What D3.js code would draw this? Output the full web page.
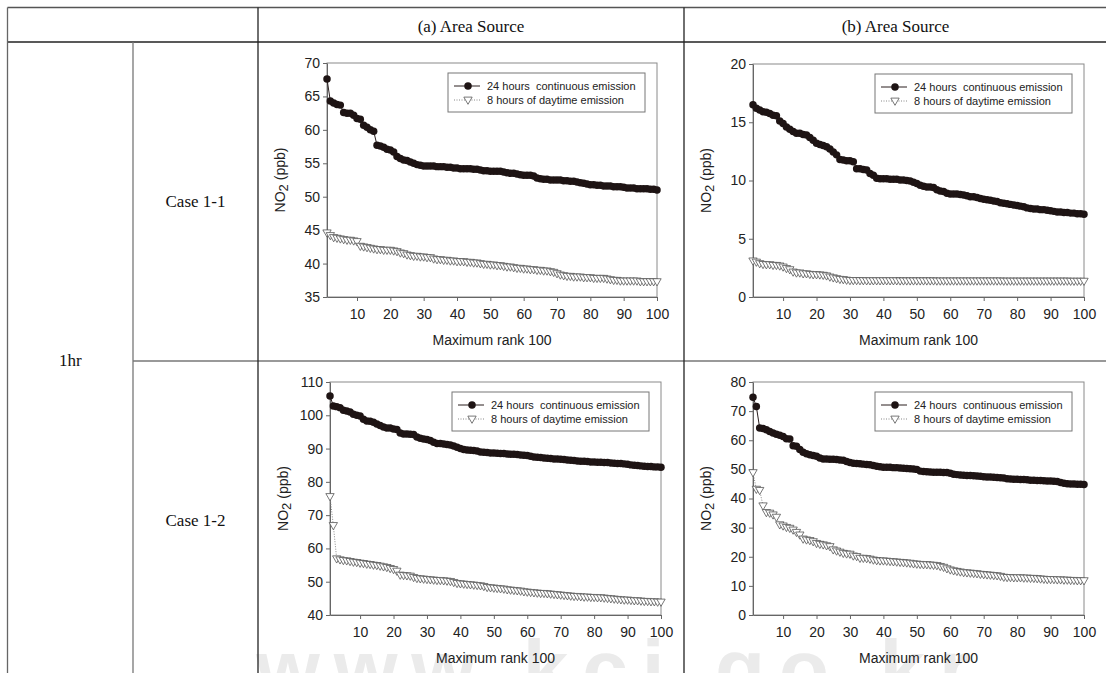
<!DOCTYPE html>
<html>
<head>
<meta charset="utf-8">
<script src="https://cdn.jsdelivr.net/npm/d3@7"></script>
<style>
  body { margin: 0; background: #fff; }
  svg text { white-space: pre; }
</style>
</head>
<body>
<svg id="canvas" width="1106" height="673"></svg>
<script>
// column / row headings
const colHeads = ["(a) Area Source", "(b) Area Source"];
const rowHeads = ["Case 1-1", "Case 1-2"];
const periodHead = "1hr";
const legendNames = ["24 hours  continuous emission", "8 hours of daytime emission"];
const xTitle = "Maximum rank 100";
const xTicks = [10, 20, 30, 40, 50, 60, 70, 80, 90, 100];

// (a) Case 1-1
const a11Continuous = [67.6, 64.3, 64.0, 63.8, 63.7, 62.6, 62.5, 62.5, 62.2, 61.7,
  61.6, 60.7, 60.4, 60.0, 59.8, 57.7, 57.6, 57.4, 57.1, 57.0,
  56.7, 56.0, 55.7, 55.5, 55.4, 55.2, 55.0, 54.8, 54.7, 54.6,
  54.6, 54.6, 54.6, 54.5, 54.5, 54.5, 54.4, 54.4, 54.3, 54.3,
  54.2, 54.2, 54.2, 54.2, 54.1, 54.1, 54.0, 53.9, 53.9, 53.8,
  53.8, 53.8, 53.8, 53.7, 53.6, 53.5, 53.5, 53.4, 53.3, 53.2,
  53.2, 53.2, 53.1, 52.8, 52.7, 52.6, 52.6, 52.5, 52.5, 52.5,
  52.5, 52.4, 52.4, 52.3, 52.3, 52.2, 52.1, 52.0, 51.9, 51.8,
  51.8, 51.7, 51.7, 51.6, 51.6, 51.6, 51.5, 51.5, 51.5, 51.4,
  51.3, 51.3, 51.3, 51.2, 51.2, 51.2, 51.2, 51.1, 51.1, 51.0];
const a11Daytime = [44.6, 44.2, 43.9, 43.8, 43.7, 43.6, 43.5, 43.5, 43.4, 43.3,
  42.6, 42.5, 42.4, 42.3, 42.2, 42.1, 42.1, 42.0, 42.0, 42.0,
  41.9, 41.8, 41.6, 41.5, 41.3, 41.2, 41.1, 41.1, 41.0, 41.0,
  40.9, 40.9, 40.7, 40.6, 40.6, 40.5, 40.5, 40.4, 40.4, 40.3,
  40.3, 40.3, 40.2, 40.2, 40.1, 40.1, 40.0, 39.9, 39.9, 39.8,
  39.8, 39.7, 39.7, 39.6, 39.5, 39.5, 39.4, 39.3, 39.3, 39.2,
  39.2, 39.1, 39.1, 39.0, 39.0, 38.9, 38.9, 38.8, 38.7, 38.5,
  38.3, 38.2, 38.1, 38.1, 38.0, 38.0, 38.0, 37.9, 37.9, 37.9,
  37.8, 37.8, 37.8, 37.8, 37.7, 37.6, 37.5, 37.5, 37.4, 37.4,
  37.4, 37.4, 37.4, 37.4, 37.3, 37.3, 37.3, 37.3, 37.3, 37.3];

// (b) Case 1-1
const b11Continuous = [16.5, 16.2, 16.05, 15.9, 15.85, 15.75, 15.6, 15.55, 15.1, 14.9,
  14.6, 14.4, 14.2, 14.05, 14.05, 13.95, 13.9, 13.7, 13.45, 13.2,
  13.1, 13.0, 12.9, 12.7, 12.45, 12.2, 11.8, 11.75, 11.7, 11.7,
  11.6, 11.0, 11.0, 10.95, 10.9, 10.6, 10.45, 10.2, 10.15, 10.15,
  10.15, 10.1, 10.1, 10.1, 10.05, 10.05, 10.0, 9.95, 9.85, 9.75,
  9.6, 9.5, 9.45, 9.45, 9.4, 9.2, 9.1, 9.05, 8.9, 8.85,
  8.85, 8.85, 8.8, 8.75, 8.7, 8.6, 8.6, 8.55, 8.45, 8.4,
  8.35, 8.3, 8.25, 8.2, 8.1, 8.05, 8.0, 7.95, 7.9, 7.85,
  7.8, 7.75, 7.65, 7.6, 7.55, 7.55, 7.5, 7.5, 7.45, 7.4,
  7.35, 7.3, 7.3, 7.25, 7.25, 7.2, 7.2, 7.15, 7.15, 7.1];
const b11Daytime = [3.1, 3.0, 2.87, 2.8, 2.78, 2.78, 2.72, 2.72, 2.67, 2.58,
  2.45, 2.35, 2.15, 2.07, 2.07, 2.0, 2.0, 1.95, 1.92, 1.92,
  1.9, 1.87, 1.82, 1.72, 1.65, 1.58, 1.52, 1.5, 1.45, 1.42,
  1.42, 1.42, 1.41, 1.41, 1.4, 1.4, 1.4, 1.4, 1.4, 1.4,
  1.4, 1.4, 1.4, 1.4, 1.39, 1.39, 1.39, 1.39, 1.39, 1.39,
  1.39, 1.39, 1.39, 1.39, 1.39, 1.38, 1.38, 1.38, 1.38, 1.38,
  1.38, 1.38, 1.38, 1.38, 1.38, 1.38, 1.38, 1.38, 1.38, 1.38,
  1.38, 1.38, 1.38, 1.38, 1.38, 1.37, 1.37, 1.37, 1.37, 1.37,
  1.37, 1.37, 1.37, 1.37, 1.37, 1.37, 1.37, 1.37, 1.37, 1.37,
  1.37, 1.37, 1.37, 1.37, 1.37, 1.36, 1.36, 1.36, 1.36, 1.36];

// (a) Case 1-2
const a12Continuous = [105.8, 102.8, 102.6, 102.3, 101.5, 101.3, 101.0, 100.3, 100.0, 99.8,
  98.8, 98.3, 98.2, 97.9, 97.4, 96.9, 96.5, 96.2, 96.2, 95.9,
  95.7, 94.7, 94.4, 94.4, 94.3, 94.2, 93.5, 93.1, 92.9, 92.7,
  92.4, 91.9, 91.5, 91.5, 91.4, 91.2, 91.1, 90.8, 90.4, 90.0,
  89.7, 89.6, 89.5, 89.4, 89.3, 89.0, 88.9, 88.8, 88.7, 88.7,
  88.6, 88.5, 88.5, 88.4, 88.3, 88.3, 88.2, 88.1, 88.0, 87.9,
  87.7, 87.5, 87.4, 87.3, 87.2, 87.1, 87.0, 86.9, 86.9, 86.8,
  86.7, 86.6, 86.5, 86.4, 86.3, 86.2, 86.2, 86.1, 86.0, 86.0,
  85.9, 85.9, 85.8, 85.8, 85.7, 85.6, 85.5, 85.5, 85.4, 85.3,
  85.1, 85.0, 84.9, 84.8, 84.7, 84.6, 84.6, 84.5, 84.5, 84.4];
const a12Daytime = [75.6, 66.9, 56.9, 56.6, 56.4, 56.3, 56.1, 55.9, 55.8, 55.6,
  55.5, 55.3, 55.2, 55.0, 54.9, 54.7, 54.5, 54.3, 54.0, 53.7,
  53.2, 52.0, 51.9, 51.8, 51.7, 51.3, 51.0, 50.9, 50.8, 50.7,
  50.6, 50.5, 50.4, 50.4, 50.3, 50.2, 50.1, 49.8, 49.5, 49.4,
  49.3, 49.2, 49.1, 49.0, 48.9, 48.8, 48.6, 48.3, 48.2, 48.1,
  48.0, 47.9, 47.8, 47.6, 47.5, 47.4, 47.3, 47.2, 47.0, 46.9,
  46.8, 46.7, 46.6, 46.5, 46.5, 46.4, 46.3, 46.2, 46.1, 46.0,
  45.9, 45.8, 45.7, 45.6, 45.6, 45.5, 45.4, 45.4, 45.3, 45.3,
  45.2, 45.2, 45.1, 45.0, 44.9, 44.8, 44.7, 44.6, 44.5, 44.5,
  44.4, 44.3, 44.3, 44.2, 44.1, 44.1, 44.0, 44.0, 43.9, 43.9];

// (b) Case 1-2
const b12Continuous = [74.8, 71.6, 64.2, 64.0, 63.6, 63.0, 62.5, 62.1, 61.7, 61.3,
  60.5, 60.4, 58.1, 57.9, 56.8, 55.9, 55.4, 55.0, 54.8, 54.5,
  53.9, 53.6, 53.6, 53.5, 53.5, 53.4, 53.2, 53.1, 52.7, 52.4,
  52.1, 52.0, 51.9, 51.8, 51.7, 51.6, 51.3, 51.1, 50.9, 50.7,
  50.7, 50.7, 50.6, 50.6, 50.5, 50.4, 50.3, 50.2, 50.1, 50.0,
  49.4, 49.3, 49.2, 49.1, 49.0, 49.0, 49.0, 48.9, 48.9, 48.7,
  48.3, 48.2, 48.1, 48.0, 47.9, 47.9, 47.8, 47.7, 47.6, 47.5,
  47.4, 47.4, 47.3, 47.2, 47.1, 47.0, 46.8, 46.7, 46.6, 46.6,
  46.5, 46.5, 46.4, 46.3, 46.3, 46.2, 46.2, 46.1, 46.0, 46.0,
  45.9, 45.8, 45.5, 45.2, 45.1, 45.0, 45.0, 44.9, 44.9, 44.8];
const b12Daytime = [48.9, 43.2, 42.8, 37.5, 35.2, 35.0, 34.4, 33.6, 31.0, 30.6,
  30.1, 29.8, 29.2, 28.4, 27.5, 26.1, 25.8, 25.6, 25.2, 24.6,
  24.3, 24.1, 23.8, 23.5, 22.4, 22.0, 21.6, 21.2, 21.0, 20.9,
  20.3, 20.1, 19.5, 19.5, 19.4, 19.2, 18.9, 18.7, 18.6, 18.6,
  18.5, 18.4, 18.3, 18.2, 18.1, 18.0, 17.9, 17.8, 17.6, 17.5,
  17.4, 17.3, 17.3, 17.2, 17.1, 17.0, 16.7, 16.4, 15.9, 15.5,
  15.2, 15.0, 14.8, 14.6, 14.5, 14.4, 14.3, 14.2, 14.0, 13.9,
  13.8, 13.7, 13.6, 13.5, 13.3, 13.0, 12.9, 12.9, 12.8, 12.8,
  12.8, 12.7, 12.7, 12.6, 12.6, 12.5, 12.4, 12.3, 12.2, 12.2,
  12.2, 12.1, 12.1, 12.0, 12.0, 11.9, 11.9, 11.8, 11.8, 11.8];

const yTicksA11 = [35, 40, 45, 50, 55, 60, 65, 70];
const yTicksB11 = [0, 5, 10, 15, 20];
const yTicksA12 = [40, 50, 60, 70, 80, 90, 100, 110];
const yTicksB12 = [0, 10, 20, 30, 40, 50, 60, 70, 80];

const svg = d3.select("#canvas");
const serif = "'Liberation Serif', 'Times New Roman', serif";
const sans = "'Liberation Sans', Arial, sans-serif";

// faint watermark along the bottom edge
svg.append("text")
  .attr("x", 256).attr("y", 697)
  .attr("font-family", sans).attr("font-size", 82).attr("font-weight", "bold")
  .attr("textLength", 715).attr("lengthAdjust", "spacing")
  .attr("fill", "#ebebeb")
  .text("www.kci.go.kr");

// table grid
const tbl = { left: 7.5, c1: 133, c2: 258, c3: 684, right: 1107, top: 7.5, head: 42, mid: 361, bottom: 679 };
const grid = svg.append("g").attr("fill", "none");
const hLine = (y, x1, x2, c) => grid.append("line").attr("x1", x1).attr("x2", x2).attr("y1", y).attr("y2", y).attr("stroke", c).attr("stroke-width", 1.3);
const vLine = (x, y1, y2, c) => grid.append("line").attr("x1", x).attr("x2", x).attr("y1", y1).attr("y2", y2).attr("stroke", c).attr("stroke-width", 1.3);
hLine(tbl.top, tbl.left, tbl.right, "#555");
hLine(tbl.head, tbl.left, tbl.right, "#222");
hLine(tbl.mid, tbl.c1, tbl.right, "#777");
vLine(tbl.left, tbl.top, tbl.bottom, "#666");
vLine(tbl.c1, tbl.head, tbl.bottom, "#777");
vLine(tbl.c2, tbl.top, tbl.bottom, "#222");
vLine(tbl.c3, tbl.top, tbl.bottom, "#222");

const label = (x, y, t) => svg.append("text")
  .attr("x", x).attr("y", y)
  .attr("text-anchor", "middle").attr("dominant-baseline", "central")
  .attr("font-family", serif).attr("font-size", 17).attr("fill", "#111")
  .text(t);
label((tbl.c2 + tbl.c3) / 2, 26, colHeads[0]);
label((tbl.c3 + tbl.right) / 2, 26, colHeads[1]);
label((tbl.c1 + tbl.c2) / 2, (tbl.head + tbl.mid) / 2, rowHeads[0]);
label((tbl.c1 + tbl.c2) / 2, (tbl.mid + tbl.bottom) / 2, rowHeads[1]);
label((tbl.left + tbl.c1) / 2, (tbl.head + tbl.bottom) / 2, periodHead);

const panels = [
  { x: 327, y: 63, w: 330, h: 234, yDomain: [35, 70], yTicks: yTicksA11, cont: a11Continuous, day: a11Daytime },
  { x: 753, y: 64, w: 331, h: 233, yDomain: [0, 20], yTicks: yTicksB11, cont: b11Continuous, day: b11Daytime },
  { x: 330, y: 382, w: 331, h: 233, yDomain: [40, 110], yTicks: yTicksA12, cont: a12Continuous, day: a12Daytime },
  { x: 753, y: 382, w: 331, h: 233, yDomain: [0, 80], yTicks: yTicksB12, cont: b12Continuous, day: b12Daytime }
];

const circleSym = d3.symbol().type(d3.symbolCircle).size(44);
const triSym = d3.symbol().type(d3.symbolTriangle).size(30);

const drawPanel = (p) => {
  const g = svg.append("g").attr("transform", `translate(${p.x},${p.y})`);
  const x = d3.scaleLinear().domain([1, 100]).range([0, p.w]);
  const y = d3.scaleLinear().domain(p.yDomain).range([p.h, 0]);

  g.append("rect").attr("width", p.w).attr("height", p.h)
    .attr("fill", "none").attr("stroke", "#8a8a8a").attr("stroke-width", 1);

  const xAxis = g.append("g").attr("transform", `translate(0,${p.h})`)
    .call(d3.axisBottom(x).tickValues(xTicks).tickSize(4).tickSizeOuter(0));
  const yAxis = g.append("g")
    .call(d3.axisLeft(y).tickValues(p.yTicks).tickSize(4).tickSizeOuter(0));
  [xAxis, yAxis].forEach(a => {
    a.select(".domain").attr("stroke", "#666");
    a.selectAll(".tick line").attr("stroke", "#666");
    a.selectAll(".tick text").attr("font-family", sans).attr("font-size", 14).attr("fill", "#222");
  });
  xAxis.selectAll(".tick text").attr("dy", "1.05em");
  yAxis.selectAll(".tick text").attr("x", -7);

  const yl = g.append("text")
    .attr("transform", `translate(-47,${p.h / 2}) rotate(-90)`)
    .attr("text-anchor", "middle").attr("dominant-baseline", "central")
    .attr("font-family", sans).attr("font-size", 14).attr("fill", "#222");
  yl.append("tspan").text("NO");
  yl.append("tspan").attr("dy", 3).attr("font-size", 13).text("2");
  yl.append("tspan").attr("dy", -3).text(" (ppb)");

  g.append("text").attr("x", p.w / 2).attr("y", p.h + 43)
    .attr("text-anchor", "middle").attr("dominant-baseline", "central")
    .attr("font-family", sans).attr("font-size", 14).attr("fill", "#222")
    .text(xTitle);

  const line = d3.line().x((d, i) => x(i + 1)).y(d => y(d));

  g.append("path").datum(p.day).attr("d", line)
    .attr("fill", "none").attr("stroke", "#888").attr("stroke-width", 1)
    .attr("stroke-dasharray", "1,1.5");
  g.append("g").selectAll("path").data(p.day).enter().append("path")
    .attr("d", triSym)
    .attr("transform", (d, i) => `translate(${x(i + 1)},${y(d) - 0.5}) rotate(180)`)
    .attr("fill", "#fff").attr("stroke", "#555").attr("stroke-width", 0.8);

  g.append("path").datum(p.cont).attr("d", line)
    .attr("fill", "none").attr("stroke", "#2a1f1f").attr("stroke-width", 1);
  g.append("g").selectAll("path").data(p.cont).enter().append("path")
    .attr("d", circleSym)
    .attr("transform", (d, i) => `translate(${x(i + 1)},${y(d)})`)
    .attr("fill", "#1e1414");

  // legend
  const lg = g.append("g").attr("transform", `translate(${p.w - 209},${10})`);
  lg.append("rect").attr("width", 197).attr("height", 39)
    .attr("fill", "#fff").attr("stroke", "#777").attr("stroke-width", 1);
  lg.append("line").attr("x1", 6).attr("x2", 32).attr("y1", 13).attr("y2", 13)
    .attr("stroke", "#2a1f1f").attr("stroke-width", 1);
  lg.append("path").attr("d", circleSym).attr("transform", "translate(20,13)").attr("fill", "#1e1414");
  lg.append("line").attr("x1", 6).attr("x2", 32).attr("y1", 27).attr("y2", 27)
    .attr("stroke", "#888").attr("stroke-dasharray", "1,1.5");
  lg.append("path").attr("d", triSym).attr("transform", "translate(20,26.5) rotate(180)")
    .attr("fill", "#fff").attr("stroke", "#555").attr("stroke-width", 0.8);
  legendNames.forEach((n, i) => {
    lg.append("text").attr("x", 39).attr("y", 13 + i * 14)
      .attr("dominant-baseline", "central")
      .attr("font-family", sans).attr("font-size", 11).attr("fill", "#222")
      .text(n);
  });
};

panels.forEach(drawPanel);
</script>
</body>
</html>
